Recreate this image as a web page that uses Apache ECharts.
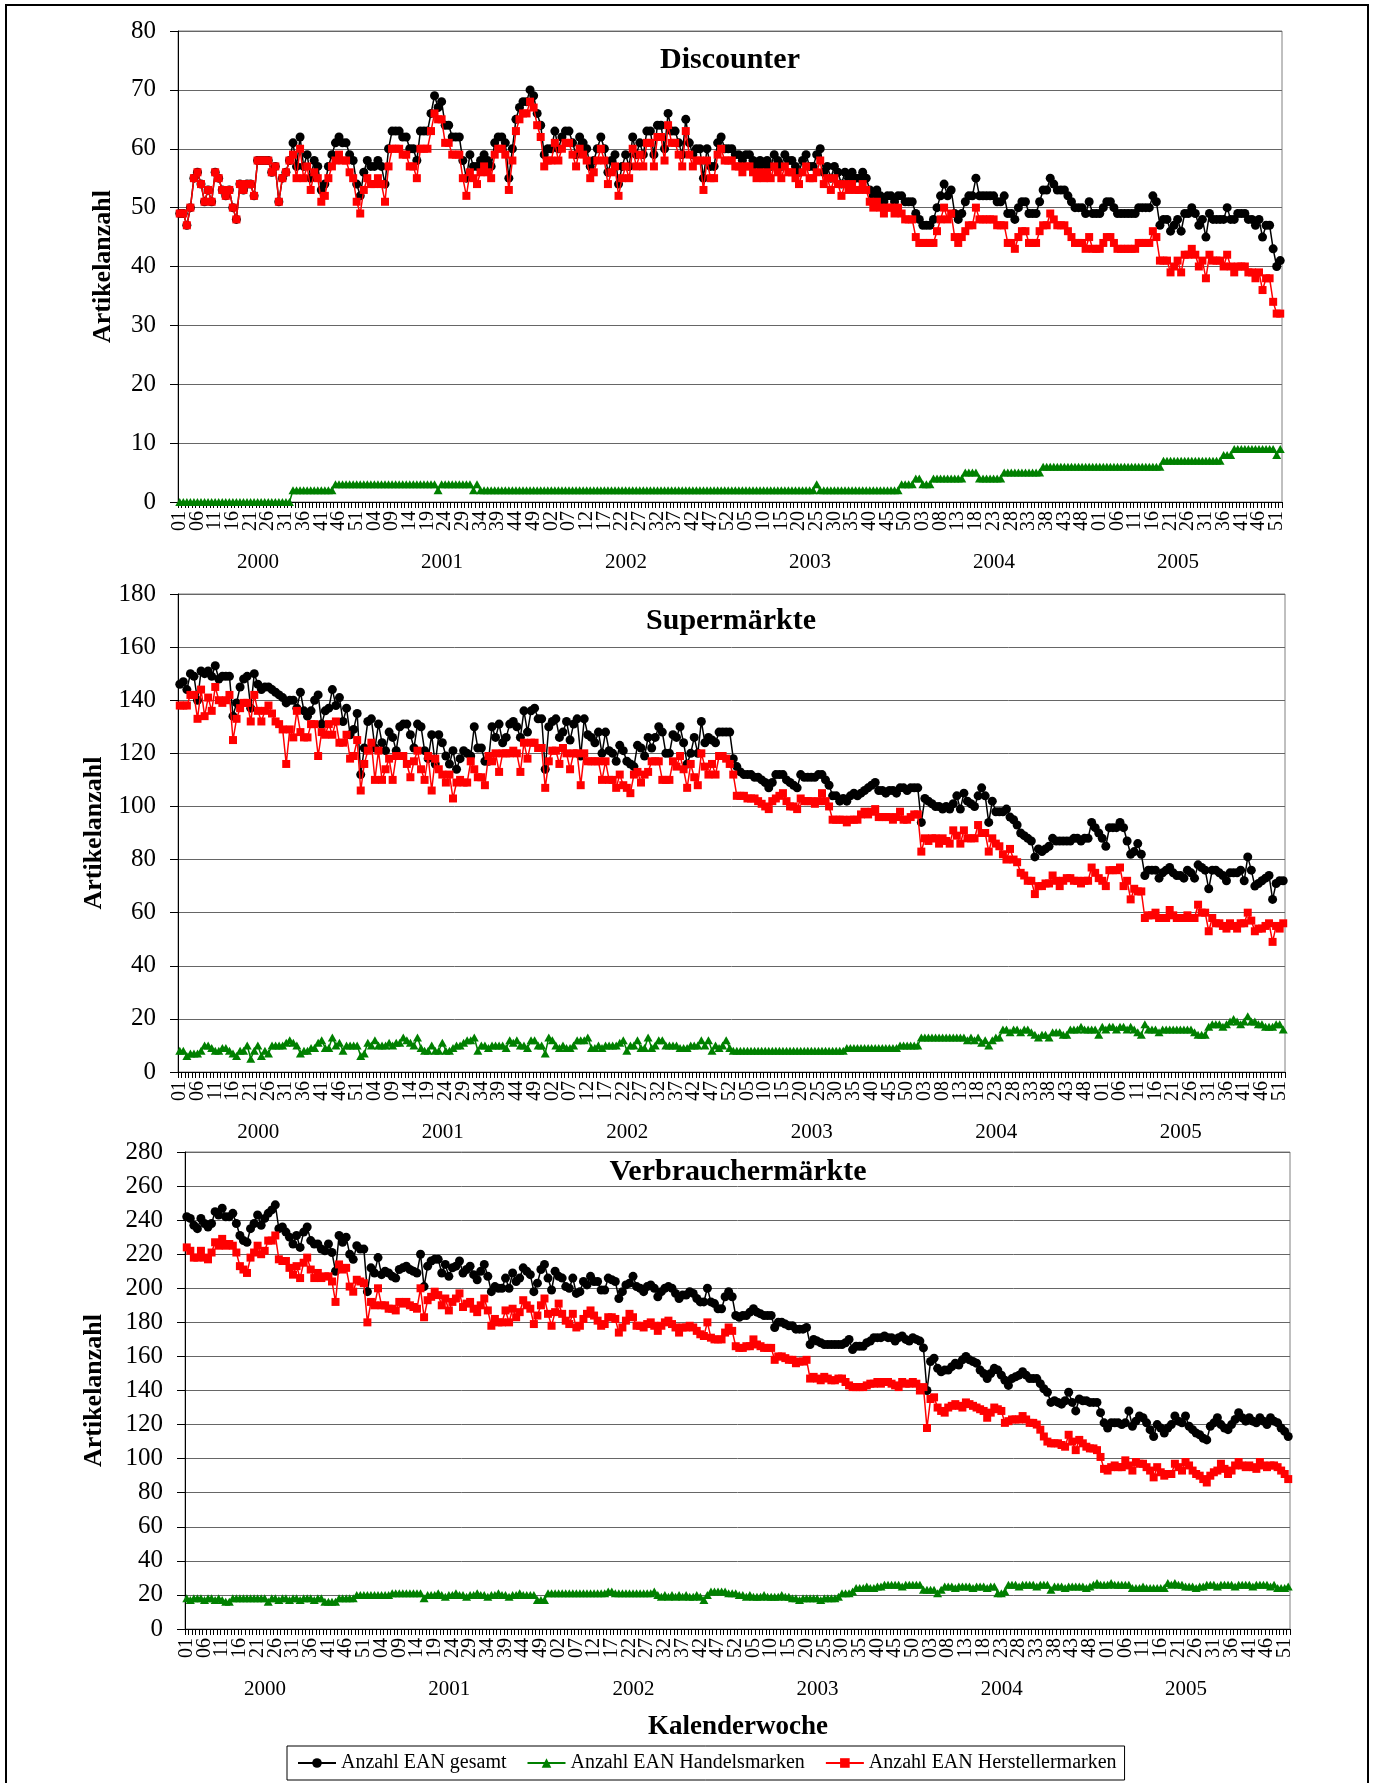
<!DOCTYPE html>
<html><head><meta charset="utf-8">
<script src="https://cdn.jsdelivr.net/npm/echarts@6/dist/echarts.min.js"></script>
<style>html,body{margin:0;padding:0;background:#fff}#c{width:1373px;height:1783px}</style>
</head><body><div id="c"></div>
<script>
const years = ['2000','2001','2002','2003','2004','2005'];
const weeksPerYear = [52,52,52,52,52,52];
const weekLabels = [];
weeksPerYear.forEach(n => { for (let w = 1; w <= n; w++) weekLabels.push(w < 10 ? '0' + w : String(w)); });
const panelTitles = ['Discounter','Supermärkte','Verbrauchermärkte'];
const seriesNames = ['Anzahl EAN gesamt','Anzahl EAN Handelsmarken','Anzahl EAN Herstellermarken'];
const yMax = [80,180,280];
const yStep = [10,20,20];

// Discounter
const p1Ges = [49,49,47,50,55,56,54,51,53,51,
56,55,53,52,53,50,48,54,53,54,
54,52,58,58,58,58,56,57,51,55,
56,58,61,57,62,57,59,55,58,57,
53,54,57,59,61,62,61,61,59,58,
54,52,56,58,57,57,58,57,54,60,
63,63,63,62,62,60,60,58,63,63,
63,66,69,67,68,64,64,62,62,62,
58,55,59,57,57,58,59,58,57,61,
62,62,61,55,60,65,67,68,68,70,
69,66,64,59,60,60,63,60,62,63,
63,61,59,62,61,60,57,58,60,62,
60,56,58,59,54,57,59,57,62,59,
61,59,63,63,59,64,64,60,66,63,
63,61,59,65,61,59,60,60,55,60,
57,57,61,62,60,60,60,59,59,58,
59,59,58,57,58,57,58,57,59,58,
57,59,58,58,57,56,58,59,57,57,
59,60,56,57,55,57,56,54,56,55,
56,55,55,56,55,53,52,53,52,51,
52,52,51,52,52,51,51,51,49,48,
47,47,47,48,50,52,54,52,53,49,
48,49,51,52,52,55,52,52,52,52,
52,51,51,52,49,49,48,50,51,51,
49,49,49,51,53,53,55,54,53,53,
53,52,51,50,50,50,49,51,49,49,
49,50,51,51,50,49,49,49,49,49,
49,50,50,50,50,52,51,47,48,48,
46,47,48,46,49,49,50,49,47,48,
45,49,48,48,48,48,50,48,48,49,
49,49,48,48,47,48,45,47,47,43,
40,41];
const p1Han = [0,0,0,0,0,0,0,0,0,0,
0,0,0,0,0,0,0,0,0,0,
0,0,0,0,0,0,0,0,0,0,
0,0,2,2,2,2,2,2,2,2,
2,2,2,2,3,3,3,3,3,3,
3,3,3,3,3,3,3,3,3,3,
3,3,3,3,3,3,3,3,3,3,
3,3,3,2,3,3,3,3,3,3,
3,3,3,2,3,2,2,2,2,2,
2,2,2,2,2,2,2,2,2,2,
2,2,2,2,2,2,2,2,2,2,
2,2,2,2,2,2,2,2,2,2,
2,2,2,2,2,2,2,2,2,2,
2,2,2,2,2,2,2,2,2,2,
2,2,2,2,2,2,2,2,2,2,
2,2,2,2,2,2,2,2,2,2,
2,2,2,2,2,2,2,2,2,2,
2,2,2,2,2,2,2,2,2,2,
3,2,2,2,2,2,2,2,2,2,
2,2,2,2,2,2,2,2,2,2,
2,2,2,2,3,3,3,3,4,4,
3,3,3,4,4,4,4,4,4,4,
4,4,5,5,5,5,4,4,4,4,
4,4,4,5,5,5,5,5,5,5,
5,5,5,5,6,6,6,6,6,6,
6,6,6,6,6,6,6,6,6,6,
6,6,6,6,6,6,6,6,6,6,
6,6,6,6,6,6,6,6,7,7,
7,7,7,7,7,7,7,7,7,7,
7,7,7,7,7,8,8,8,9,9,
9,9,9,9,9,9,9,9,9,9,
8,9];
const p1Her = [49,49,47,50,55,56,54,51,53,51,
56,55,53,52,53,50,48,54,53,54,
54,52,58,58,58,58,56,57,51,55,
56,58,59,55,60,55,57,53,56,55,
51,52,55,57,58,59,58,58,56,55,
51,49,53,55,54,54,55,54,51,57,
60,60,60,59,59,57,57,55,60,60,
60,63,66,65,65,61,61,59,59,59,
55,52,56,55,54,56,57,56,55,59,
60,60,59,53,58,63,65,66,66,68,
67,64,62,57,58,58,61,58,60,61,
61,59,57,60,59,58,55,56,58,60,
58,54,56,57,52,55,57,55,60,57,
59,57,61,61,57,62,62,58,64,61,
61,59,57,63,59,57,58,58,53,58,
55,55,59,60,58,58,58,57,57,56,
57,57,56,55,56,55,56,55,57,56,
55,57,56,56,55,54,56,57,55,55,
56,58,54,55,53,55,54,52,54,53,
54,53,53,54,53,51,50,51,50,49,
50,50,49,50,49,48,48,48,45,44,
44,44,44,44,46,48,50,48,49,45,
44,45,46,47,47,50,48,48,48,48,
48,47,47,47,44,44,43,45,46,46,
44,44,44,46,47,47,49,48,47,47,
47,46,45,44,44,44,43,45,43,43,
43,44,45,45,44,43,43,43,43,43,
43,44,44,44,44,46,45,41,41,41,
39,40,41,39,42,42,43,42,40,41,
38,42,41,41,41,40,42,40,39,40,
40,40,39,39,38,39,36,38,38,34,
32,32];

// Supermärkte
const p2Ges = [146,147,144,150,149,140,151,150,151,149,
153,148,149,149,149,134,139,145,148,149,
137,150,146,144,145,145,144,143,142,141,
139,140,140,137,143,136,134,136,140,142,
131,136,137,144,138,141,132,137,127,129,
135,112,122,132,133,122,131,124,121,128,
126,121,130,131,131,127,122,131,130,121,
118,127,116,127,124,119,116,121,114,118,
121,120,119,130,122,122,117,117,130,126,
131,124,126,131,132,130,126,136,128,136,
137,133,133,114,130,132,133,126,128,132,
125,131,133,119,133,127,126,124,128,120,
128,121,120,117,123,121,117,116,115,123,
122,119,126,122,126,130,128,120,120,127,
126,130,124,116,120,126,120,132,124,126,
125,124,128,128,128,128,118,115,113,112,
112,112,111,111,110,109,107,109,112,112,
112,110,109,108,107,112,111,111,111,111,
112,112,110,108,104,104,102,103,102,104,
105,104,105,106,107,108,109,106,106,105,
106,106,105,107,107,106,107,107,107,94,
103,102,101,100,100,99,100,99,101,104,
99,105,102,101,100,104,107,104,94,102,
98,98,98,99,96,95,93,90,89,88,
87,81,84,83,84,85,88,87,87,87,
87,87,88,88,87,88,88,94,92,90,
88,85,92,92,92,94,92,87,82,83,
86,82,74,76,76,76,73,75,76,77,
75,74,74,73,76,75,73,78,77,76,
69,76,76,75,74,72,75,75,75,76,
72,81,76,70,71,72,73,74,65,71,
72,72];
const p2Han = [8,8,6,7,7,7,8,10,10,9,
8,8,9,9,8,7,6,8,8,10,
5,8,10,6,8,7,10,10,10,10,
11,12,11,10,7,8,8,9,9,11,
12,9,9,13,10,11,8,10,10,10,
10,6,7,11,10,12,10,10,10,11,
10,11,11,13,12,11,10,13,9,8,
8,10,8,8,11,8,8,9,10,10,
11,12,12,13,8,10,10,9,10,10,
10,10,9,12,11,12,10,10,9,12,
12,10,10,7,13,12,10,9,10,9,
9,10,12,12,12,13,9,9,10,9,
10,10,10,10,11,12,8,10,10,12,
9,9,13,9,10,12,12,10,10,10,
10,9,9,9,10,10,10,12,10,12,
8,10,9,10,12,9,8,8,8,8,
8,8,8,8,8,8,8,8,8,8,
8,8,8,8,8,8,8,8,8,8,
8,8,8,8,8,8,8,8,9,9,
9,9,9,9,9,9,9,9,9,9,
9,9,9,10,10,10,10,10,10,13,
13,13,13,13,13,13,13,13,13,13,
13,13,12,13,12,13,11,12,10,12,
13,13,16,16,15,16,16,15,16,16,
15,14,13,14,14,13,15,15,15,14,
14,16,16,16,17,16,16,16,16,14,
17,16,17,17,16,17,17,16,17,16,
15,14,18,16,16,16,15,16,16,16,
16,16,16,16,16,16,15,14,14,14,
17,18,18,18,17,18,19,20,19,18,
19,21,19,19,18,18,17,17,17,18,
18,16];
const p2Her = [138,138,138,142,142,133,144,134,141,136,
145,140,139,140,142,125,133,137,139,139,
132,142,136,132,136,138,135,132,131,129,
116,129,126,136,128,126,126,131,131,119,
128,127,131,127,132,124,124,127,118,119,
125,106,116,121,124,110,121,110,114,118,
110,119,119,119,116,111,117,121,114,110,
119,106,118,114,112,109,112,103,109,110,
109,109,117,114,111,111,108,119,117,120,
113,120,120,120,121,120,113,124,118,124,
124,122,122,107,117,121,121,116,122,120,
114,120,120,108,120,117,117,117,117,110,
117,110,110,107,112,108,107,105,112,113,
109,112,113,117,117,117,110,110,110,117,
115,119,114,107,116,111,108,120,115,112,
116,112,119,119,118,116,112,104,104,104,
103,103,103,102,101,100,99,102,103,104,
105,102,100,100,99,103,102,102,102,101,
102,105,102,100,95,95,95,95,94,95,
95,95,97,98,97,98,99,96,96,96,
96,95,96,98,95,95,96,97,97,83,
88,87,88,88,86,88,87,86,91,89,
86,91,88,88,88,93,90,90,83,88,
86,85,82,80,84,80,79,75,74,72,
72,67,70,70,71,71,74,72,70,72,
73,73,72,72,71,72,72,77,75,73,
72,70,76,76,76,77,70,72,65,69,
68,68,58,59,59,60,58,58,58,61,
59,58,58,58,59,58,58,63,60,60,
53,58,56,56,55,54,56,55,54,56,
56,60,57,53,54,54,55,56,49,55,
54,56];

// Verbrauchermärkte
const p3Ges = [242,241,237,235,241,238,236,238,245,243,
247,242,242,244,238,231,228,227,235,238,
243,237,241,244,246,249,235,236,233,230,
226,231,224,233,236,228,226,226,223,222,
226,221,210,231,227,230,220,217,225,223,
223,198,212,209,218,208,210,209,207,206,
211,212,213,211,210,209,220,201,213,216,
217,217,209,214,207,212,213,216,209,211,
213,208,205,210,214,207,198,201,200,200,
206,200,209,204,206,212,210,208,198,203,
211,214,206,199,210,207,206,201,200,206,
197,198,204,202,207,204,204,199,199,206,
205,204,194,198,202,203,207,201,200,198,
201,202,200,195,198,200,201,200,197,194,
196,196,198,197,194,192,192,200,192,191,
188,188,195,198,195,184,183,184,184,186,
188,186,185,184,184,184,177,180,180,179,
178,178,176,176,176,177,167,170,169,168,
167,167,167,167,167,167,168,170,164,166,
166,166,168,169,171,171,171,172,171,171,
169,171,172,170,169,171,170,169,165,140,
157,159,153,151,152,152,154,156,155,158,
160,158,157,156,152,150,147,150,153,152,
149,146,143,147,148,149,151,149,147,147,
147,144,141,139,133,134,133,132,134,139,
133,128,135,134,134,133,133,133,127,121,
118,121,121,121,120,121,128,119,122,125,
124,121,117,113,120,118,115,118,120,125,
122,121,125,119,117,115,114,112,111,119,
121,124,120,118,117,120,123,127,124,122,
124,122,121,124,122,120,124,122,121,118,
116,113];
const p3Han = [18,17,18,18,18,17,18,18,17,18,
17,16,16,18,18,18,18,18,18,18,
18,18,18,16,18,18,17,18,18,17,
18,18,17,18,18,18,17,18,18,16,
16,16,16,18,18,18,18,18,20,20,
20,20,20,20,20,20,20,20,21,21,
21,21,21,21,21,21,21,18,20,20,
20,21,20,19,20,20,21,20,20,19,
20,20,21,20,20,19,20,20,21,20,
20,19,20,20,21,20,20,20,20,17,
17,17,21,21,21,21,21,21,21,21,
21,21,21,21,21,21,21,21,21,22,
22,21,21,21,21,21,21,21,21,21,
21,21,22,20,19,20,19,20,19,20,
19,20,19,19,20,19,17,20,22,22,
22,22,22,21,21,21,20,20,19,20,
19,19,19,20,19,19,19,19,20,19,
19,18,18,17,18,18,18,18,18,17,
18,18,18,18,19,21,21,21,22,24,
24,24,25,24,24,25,25,26,26,26,
26,26,25,26,26,26,26,26,23,23,
23,23,21,23,25,25,25,24,25,25,
25,25,24,25,25,25,24,25,25,21,
21,22,26,26,26,25,26,26,26,26,
25,26,26,26,23,25,25,25,24,25,
25,25,25,25,24,25,26,27,26,26,
26,27,26,26,26,26,26,24,24,24,
25,24,24,24,24,24,24,27,26,27,
26,26,25,25,25,24,25,25,26,26,
26,25,26,26,26,26,25,26,26,26,
26,25,26,26,26,26,25,26,24,24,
24,25];
const p3Her = [224,222,218,218,222,218,217,221,227,225,
229,225,226,225,221,213,211,209,218,221,
225,220,222,228,228,231,217,216,216,212,
208,213,206,215,218,211,206,209,206,207,
207,204,192,214,211,212,201,198,205,204,
203,180,192,190,200,190,190,188,188,187,
192,191,192,190,189,188,200,183,193,195,
198,196,190,194,187,192,194,197,189,191,
192,188,186,190,194,187,178,182,180,180,
187,180,188,183,186,193,190,188,179,184,
190,194,185,178,186,191,185,181,179,185,
177,178,182,185,187,184,181,178,179,183,
183,182,174,177,181,185,183,178,178,177,
179,180,178,175,178,180,181,179,177,174,
177,177,178,177,175,173,172,180,171,170,
170,170,174,177,175,166,165,165,166,166,
170,167,166,165,165,165,158,160,160,159,
158,158,156,157,157,158,147,148,147,146,
148,147,146,146,147,147,145,143,142,142,
142,142,143,144,144,145,144,145,145,144,
143,142,145,144,144,145,144,140,142,118,
135,136,130,128,127,130,131,132,131,130,
133,132,131,130,129,128,124,127,130,129,
128,121,122,123,123,123,125,123,121,121,
120,117,113,110,109,109,109,108,107,114,
110,105,111,109,107,106,106,105,101,94,
93,95,96,95,95,99,96,93,98,97,
97,95,93,89,95,92,90,91,91,97,
95,93,98,96,93,91,90,88,86,90,
92,93,97,94,91,93,96,98,96,95,
96,95,94,98,96,95,96,96,95,93,
91,88];

const panelData = [[p1Ges,p1Han,p1Her],[p2Ges,p2Han,p2Her],[p3Ges,p3Han,p3Her]];

const FONT = '"Liberation Serif", "Times New Roman", serif';
const gridBoxes = [
  {left:178, top:31, width:1104, height:471},
  {left:178, top:594, width:1107, height:478},
  {left:185, top:1152, width:1105, height:477}
];
const nameGaps = [62, 62, 78];
const titlePos = [[730,60],[731,621],[738,1172]];
const colors = ['#000000','#008000','#ff0000'];
const symbols = ['circle','triangle','rect'];
const symSizes = [9,[9,8],8];

const grid = [], xAxis = [], yAxis = [], series = [];
gridBoxes.forEach((g, p) => {
  grid.push(Object.assign({show:true, borderColor:'#808080', borderWidth:1, backgroundColor:'transparent'}, g));
  xAxis.push({type:'category', gridIndex:p, data:weekLabels, boundaryGap:true,
    axisLine:{show:true, lineStyle:{color:'#000', width:1}},
    axisTick:{show:true, interval:0, length:6, lineStyle:{color:'#000', width:1}},
    axisLabel:{interval:0, formatter:(v, i) => (i % 5 === 0 ? v : ''), rotate:90, fontSize:20, lineHeight:16,
      fontFamily:FONT, color:'#000', margin:9, hideOverlap:false},
    splitLine:{show:false}});
  xAxis.push({type:'category', gridIndex:p, data:years, position:'bottom', offset:44, boundaryGap:true,
    axisLine:{show:false}, axisTick:{show:false},
    axisLabel:{fontSize:21, fontFamily:FONT, color:'#000', margin:6, padding:[0,24,0,0]},
    splitLine:{show:false}});
  yAxis.push({type:'value', gridIndex:p, min:0, max:yMax[p], interval:yStep[p],
    axisLine:{show:true, lineStyle:{color:'#000', width:1}},
    axisTick:{show:true, length:8, lineStyle:{color:'#000'}},
    axisLabel:{fontSize:25, fontFamily:FONT, color:'#000', margin:22},
    splitLine:{show:true, lineStyle:{color:'#666', width:1}},
    name:'Artikelanzahl', nameLocation:'middle', nameRotate:90, nameGap:nameGaps[p],
    nameTextStyle:{fontSize:26, fontWeight:'bold', fontFamily:FONT, color:'#000'}});
  panelData[p].forEach((arr, s) => {
    series.push({type:'line', name:seriesNames[s], xAxisIndex:2*p, yAxisIndex:p, data:arr,
      symbol:symbols[s], symbolSize:symSizes[s], showSymbol:true, showAllSymbol:true,
      lineStyle:{color:colors[s], width:1.5}, itemStyle:{color:colors[s]},
      emphasis:{disabled:true}, z:2+s});
  });
});

const graphic = [
  {type:'rect', silent:true, z:-10, shape:{x:6, y:5, width:1362, height:1800}, style:{fill:'none', stroke:'#000', lineWidth:2}}
];
panelTitles.forEach((t, p) => {
  graphic.push({type:'text', silent:true, x:titlePos[p][0], y:titlePos[p][1],
    style:{text:t, font:'bold 30px ' + FONT, fill:'#000', textAlign:'center', textVerticalAlign:'middle', align:'center', verticalAlign:'middle'}});
});
graphic.push({type:'text', silent:true, x:738, y:1727,
  style:{text:'Kalenderwoche', font:'bold 27px ' + FONT, fill:'#000', textAlign:'center', textVerticalAlign:'middle', align:'center', verticalAlign:'middle'}});

const lens = panelData.flat().map(a => a.length);
if (lens.some(l => l !== 312)) {
  graphic.push({type:'text', x:400, y:300, style:{text:'LEN ' + lens.join(','), font:'bold 30px sans-serif', fill:'#f0f'}});
}

const chart = echarts.init(document.getElementById('c'), null, {renderer:'canvas'});
chart.setOption({
  animation:false,
  backgroundColor:'#fff',
  grid, xAxis, yAxis, series, graphic,
  legend:{data:seriesNames, left:287, top:1746, orient:'horizontal', itemWidth:38, itemHeight:12, itemGap:20,
    padding:[7,8,7,10], borderColor:'#000', borderWidth:1, selectedMode:false,
    textStyle:{fontSize:20, fontFamily:FONT, color:'#000'}}
});
</script>
</body></html>
